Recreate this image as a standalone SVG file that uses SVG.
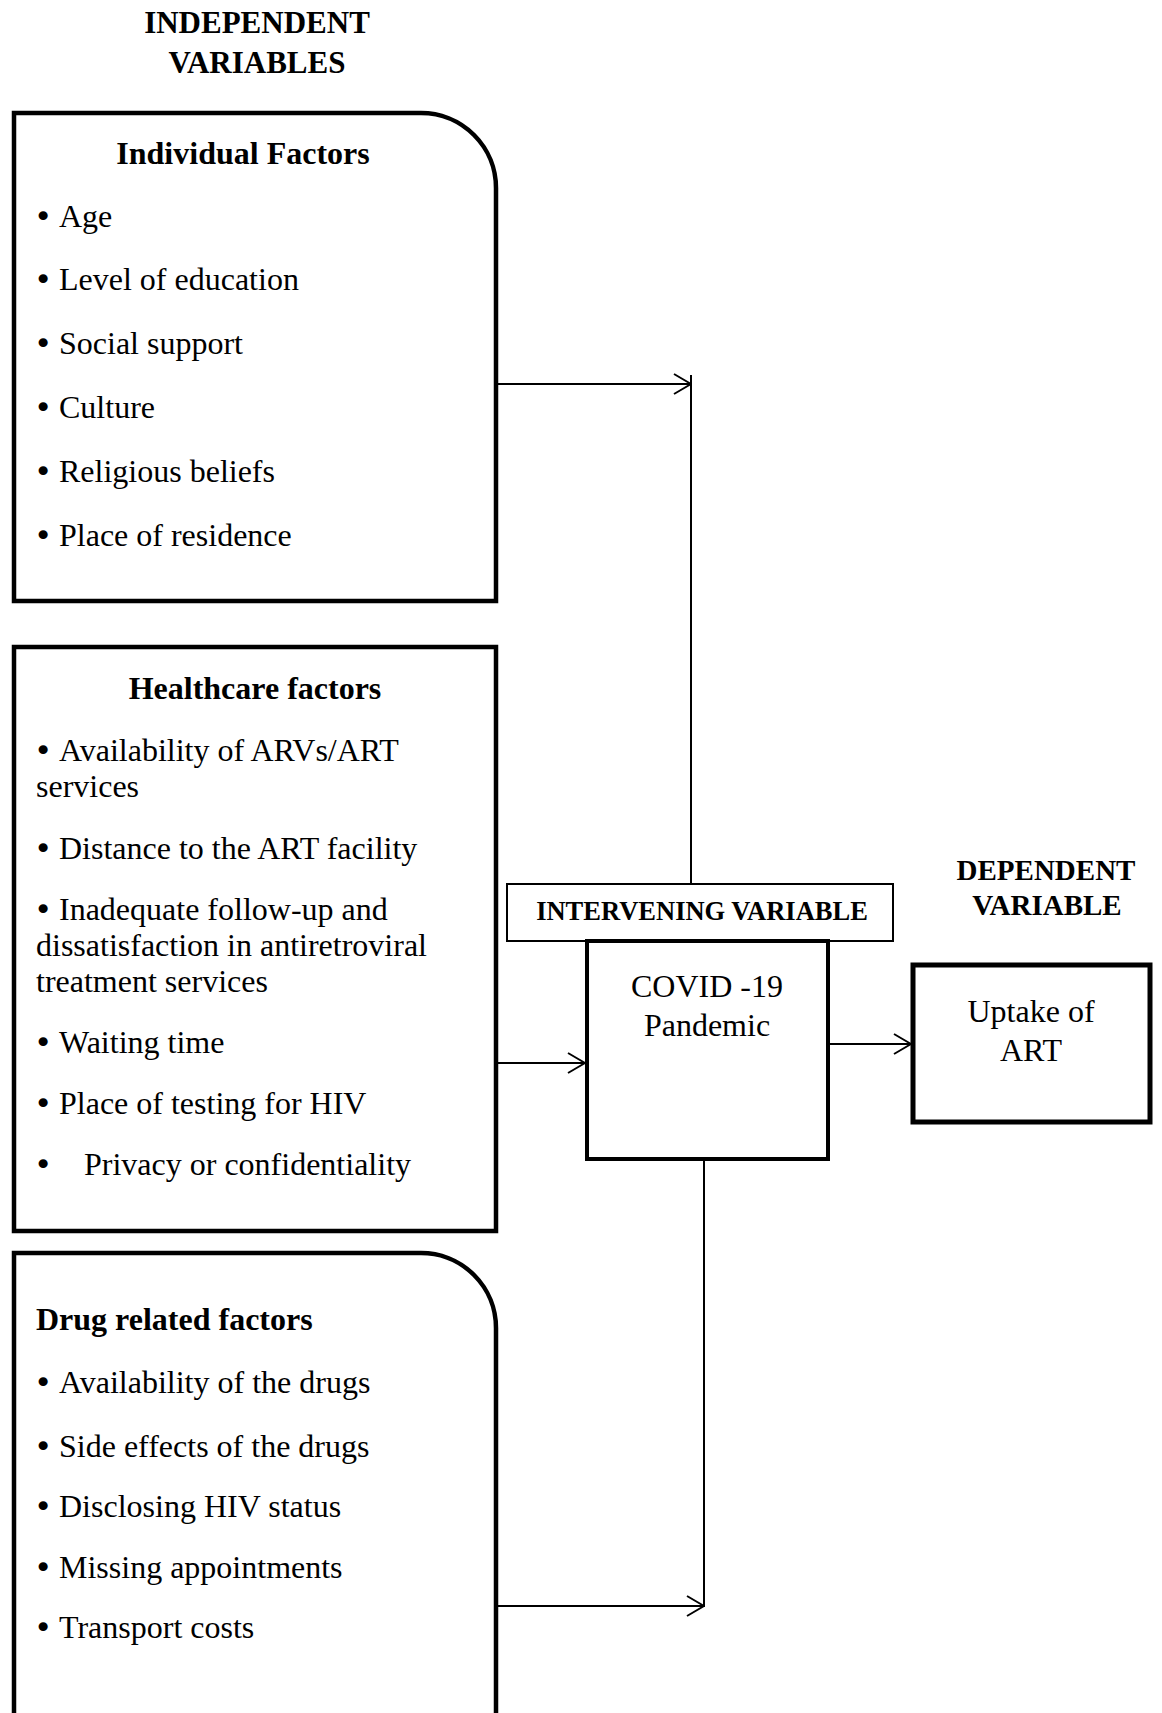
<svg xmlns="http://www.w3.org/2000/svg" width="1162" height="1713" viewBox="0 0 1162 1713">
<style>
text{font-family:"Liberation Serif","Times New Roman",serif;fill:#000}
.t{font-size:32px}
.b{font-weight:bold}
.h{font-size:31px;font-weight:bold}
.bu{font-family:"DejaVu Sans",sans-serif;font-size:31px}
.box{fill:#fff;stroke:#000;stroke-width:4.5}
.conn line{stroke:#000;stroke-width:2}
</style>
<defs>
<marker id="ah" markerUnits="userSpaceOnUse" viewBox="0 0 20 22" refX="19" refY="11" markerWidth="20" markerHeight="22" orient="auto">
<path d="M2,1 L19,11 L2,21" fill="none" stroke="#000" stroke-width="2"/>
</marker>
</defs>
<rect width="1162" height="1713" fill="#fff"/>

<g id="title-independent">
<text class="h" x="257" y="33" text-anchor="middle">INDEPENDENT</text>
<text class="h" x="257" y="73" text-anchor="middle">VARIABLES</text>
</g>

<g id="individual-factors">
<path class="box" d="M14,113 H421 A75,75 0 0 1 496,188 V601 H14 Z"/>
<text class="t b" x="243" y="164" text-anchor="middle">Individual Factors</text>
<text class="t" x="34" y="227"><tspan class="bu">•</tspan><tspan x="59">Age</tspan></text>
<text class="t" x="34" y="290"><tspan class="bu">•</tspan><tspan x="59">Level of education</tspan></text>
<text class="t" x="34" y="354"><tspan class="bu">•</tspan><tspan x="59">Social support</tspan></text>
<text class="t" x="34" y="418"><tspan class="bu">•</tspan><tspan x="59">Culture</tspan></text>
<text class="t" x="34" y="482"><tspan class="bu">•</tspan><tspan x="59">Religious beliefs</tspan></text>
<text class="t" x="34" y="546"><tspan class="bu">•</tspan><tspan x="59">Place of residence</tspan></text>
</g>

<g id="healthcare-factors">
<rect class="box" x="14" y="647" width="482" height="584"/>
<text class="t b" x="255" y="699" text-anchor="middle">Healthcare factors</text>
<text class="t" x="34" y="761"><tspan class="bu">•</tspan><tspan x="59">Availability of ARVs/ART</tspan></text>
<text class="t" x="36" y="797">services</text>
<text class="t" x="34" y="859"><tspan class="bu">•</tspan><tspan x="59">Distance to the ART facility</tspan></text>
<text class="t" x="34" y="920"><tspan class="bu">•</tspan><tspan x="59">Inadequate follow-up and</tspan></text>
<text class="t" x="36" y="956">dissatisfaction in antiretroviral</text>
<text class="t" x="36" y="992">treatment services</text>
<text class="t" x="34" y="1053"><tspan class="bu">•</tspan><tspan x="59">Waiting time</tspan></text>
<text class="t" x="34" y="1114"><tspan class="bu">•</tspan><tspan x="59">Place of testing for HIV</tspan></text>
<text class="t" x="34" y="1175"><tspan class="bu">•</tspan><tspan x="84">Privacy or confidentiality</tspan></text>
</g>

<g id="drug-related-factors">
<path class="box" d="M14,1720 V1253 H421 A75,75 0 0 1 496,1328 V1720"/>
<text class="t b" x="36" y="1330">Drug related factors</text>
<text class="t" x="34" y="1393"><tspan class="bu">•</tspan><tspan x="59">Availability of the drugs</tspan></text>
<text class="t" x="34" y="1457"><tspan class="bu">•</tspan><tspan x="59">Side effects of the drugs</tspan></text>
<text class="t" x="34" y="1517"><tspan class="bu">•</tspan><tspan x="59">Disclosing HIV status</tspan></text>
<text class="t" x="34" y="1578"><tspan class="bu">•</tspan><tspan x="59">Missing appointments</tspan></text>
<text class="t" x="34" y="1638"><tspan class="bu">•</tspan><tspan x="59">Transport costs</tspan></text>
</g>

<g id="intervening-variable">
<rect x="507" y="884" width="386" height="57" fill="#fff" stroke="#000" stroke-width="2"/>
<text x="702" y="920" text-anchor="middle" font-size="26.5" font-weight="bold">INTERVENING VARIABLE</text>
</g>

<g id="covid-19">
<rect x="587" y="941" width="241" height="218" fill="#fff" stroke="#000" stroke-width="4"/>
<text class="t" x="707" y="997" text-anchor="middle">COVID -19</text>
<text class="t" x="707" y="1036" text-anchor="middle">Pandemic</text>
</g>

<g id="title-dependent">
<text x="1046" y="880" text-anchor="middle" font-size="29" font-weight="bold">DEPENDENT</text>
<text x="1047" y="915" text-anchor="middle" font-size="29" font-weight="bold">VARIABLE</text>
</g>

<g id="uptake-of-art">
<rect x="913" y="965" width="237" height="157" fill="#fff" stroke="#000" stroke-width="5"/>
<text class="t" x="1031" y="1022" text-anchor="middle">Uptake of</text>
<text class="t" x="1031" y="1061" text-anchor="middle">ART</text>
</g>

<g id="connectors" class="conn">
<line x1="498" y1="384" x2="691" y2="384" marker-end="url(#ah)"/>
<line x1="691" y1="375" x2="691" y2="884"/>
<line x1="498" y1="1063" x2="585" y2="1063" marker-end="url(#ah)"/>
<line x1="830" y1="1044" x2="911" y2="1044" marker-end="url(#ah)"/>
<line x1="704" y1="1161" x2="704" y2="1607"/>
<line x1="498" y1="1606" x2="704" y2="1606" marker-end="url(#ah)"/>
</g>
</svg>
